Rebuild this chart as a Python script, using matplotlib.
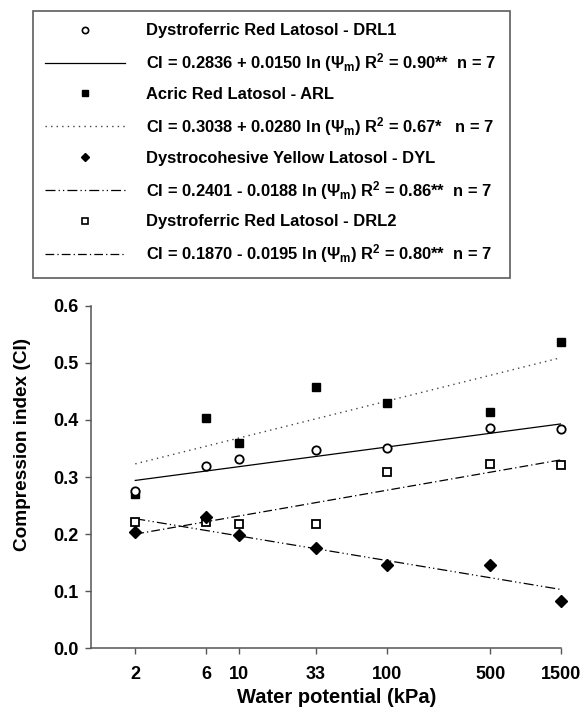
import matplotlib
matplotlib.use("Agg")
import matplotlib.pyplot as plt
from matplotlib.lines import Line2D

plt.rcParams['font.family'] = ['Liberation Sans', 'DejaVu Sans']
plt.rcParams['font.weight'] = 'bold'
plt.rcParams['mathtext.fontset'] = 'custom'
plt.rcParams['mathtext.rm'] = 'Liberation Sans:bold'
plt.rcParams['mathtext.it'] = 'Liberation Sans:bold'
plt.rcParams['mathtext.bf'] = 'Liberation Sans:bold'
plt.rcParams['mathtext.default'] = 'rm'

# water potential (kPa)
psi = [2, 6, 10, 33, 100, 500, 1500]

# compression index
drl1 = [0.276, 0.319, 0.332, 0.347, 0.351, 0.385, 0.384]
arl = [0.270, 0.404, 0.359, 0.458, 0.429, 0.413, 0.536]
dyl = [0.204, 0.230, 0.198, 0.176, 0.146, 0.146, 0.083]
drl2 = [0.222, 0.221, 0.217, 0.217, 0.308, 0.322, 0.321]

# fitted lines, values at the ends (2 and 1500 kPa)
fit_x = [2, 1500]
drl1_fit = [0.294, 0.393]
arl_fit = [0.323, 0.509]
dyl_fit = [0.227, 0.103]
drl2_fit = [0.200, 0.330]

names = ['Dystroferric Red Latosol - DRL1',
         'Acric Red Latosol - ARL',
         'Dystrocohesive Yellow Latosol - DYL',
         'Dystroferric Red Latosol - DRL2']
eqs = [r'CI = 0.2836 + 0.0150 ln ($\Psi_{\rm m}$) R$^{\rm 2}$ = 0.90**  n = 7',
       r'CI = 0.3038 + 0.0280 ln ($\Psi_{\rm m}$) R$^{\rm 2}$ = 0.67*   n = 7',
       r'CI = 0.2401 - 0.0188 ln ($\Psi_{\rm m}$) R$^{\rm 2}$ = 0.86**  n = 7',
       r'CI = 0.1870 - 0.0195 ln ($\Psi_{\rm m}$) R$^{\rm 2}$ = 0.80**  n = 7']

dotted = (0, (1, 3))
dashdotdot = (0, (8, 2.5, 1, 2.5, 1, 2.5))
dashdot = (0, (7, 2.5, 1, 2.5))

fig = plt.figure(figsize=(5.87, 7.22), dpi=100)
ax = fig.add_axes([90.7/587, 1-648.3/722, (561-90.7)/587, (648.3-305.7)/722])

ax.plot(fit_x, drl1_fit, color='k', lw=0.9, ls='-')
ax.plot(fit_x, arl_fit, color='#444444', lw=1.0, ls=dotted)
ax.plot(fit_x, dyl_fit, color='k', lw=0.9, ls=dashdotdot)
ax.plot(fit_x, drl2_fit, color='k', lw=0.9, ls=dashdot)

ax.plot(psi, arl, 's', color='k', ms=6, ls='none', clip_on=False)
ax.plot(psi, drl1, 'o', mfc='white', mec='k', mew=1.3, ms=6, ls='none', clip_on=False)
ax.plot(psi, drl2, 's', mfc='white', mec='k', mew=1.3, ms=6, ls='none', clip_on=False)
ax.plot(psi, dyl, 'D', color='k', ms=6, ls='none', clip_on=False)

ax.set_xscale('log')
ax.set_xlim(1, 1500)
ax.set_ylim(0, 0.6)
ax.set_xticks(psi)
ax.set_xticklabels([str(p) for p in psi])
ax.minorticks_off()
ax.set_yticks([0.0, 0.1, 0.2, 0.3, 0.4, 0.5, 0.6])
ax.set_yticklabels(['0.0', '0.1', '0.2', '0.3', '0.4', '0.5', '0.6'])
for s in ['top', 'right']:
    ax.spines[s].set_visible(False)
for s in ['left', 'bottom']:
    ax.spines[s].set_color('#555555')
    ax.spines[s].set_linewidth(1.1)
ax.tick_params(axis='both', length=4, width=1, color='#555555', labelsize=13)
ax.tick_params(axis='y', pad=5)
ax.tick_params(axis='x', pad=9)
ax.set_xlabel('Water potential (kPa)', fontsize=14.5, fontweight='bold')
ax.set_ylabel('Compression index (CI)', fontsize=13.7, fontweight='bold')
ax.xaxis.set_label_coords(0.523, -0.115)
ax.yaxis.set_label_coords(-0.127, 0.596)

handles = [
    Line2D([], [], marker='o', mfc='white', mec='k', mew=1.2, ms=4.5, ls='none'),
    Line2D([], [], color='k', lw=0.9, ls='-'),
    Line2D([], [], marker='s', color='k', ms=4.5, ls='none'),
    Line2D([], [], color='#444444', lw=1.0, ls=dotted),
    Line2D([], [], marker='D', color='k', ms=4.5, ls='none'),
    Line2D([], [], color='k', lw=0.9, ls=dashdotdot),
    Line2D([], [], marker='s', mfc='white', mec='k', mew=1.2, ms=4.5, ls='none'),
    Line2D([], [], color='k', lw=0.9, ls=dashdot),
]
labels = []
for n, e in zip(names, eqs):
    labels += [n, e]

leg = fig.legend(handles, labels, loc='upper left',
                 bbox_to_anchor=(33/587, 1-11/722, 477/587, 0), mode='expand',
                 borderaxespad=0, numpoints=1, handlelength=4.8, handletextpad=1.27,
                 labelspacing=0.78, borderpad=0.75, fancybox=False,
                 edgecolor='#333333', prop={'weight': 'bold', 'size': 11.9})
leg.get_frame().set_linewidth(1.2)

fig.savefig('out.png', dpi=100)
